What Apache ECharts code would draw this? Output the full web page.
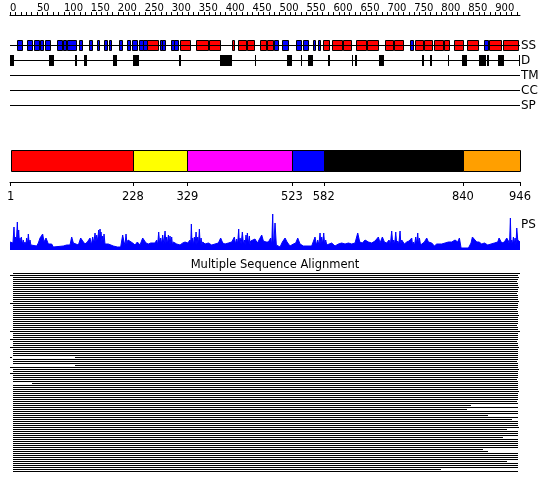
<!DOCTYPE html>
<html><head><meta charset="utf-8">
<script src="https://cdn.jsdelivr.net/npm/echarts@6/dist/echarts.min.js"></script>
<style>html,body{margin:0;padding:0;background:#fff}#c{width:550px;height:495px}</style>
</head><body><div id="c"></div><script>
// ---------- data ----------
var seqLength = 946;
var topTickLabels = [0,50,100,150,200,250,300,350,400,450,500,550,600,650,700,750,800,850,900];
var trackNames = ['SS','D','TM','CC','SP'];
// secondary structure elements (E = strand, H = helix)
var ssStart = [13.5,31,45.1,55.7,64.4,87.8,98.9,106.3,128.6,146,162,173.8,183.7,202.8,216.5,226.9,239.9,247.3,254.2,278.3,282.6,298.7,304.8,316,344.5,369.2,412.4,423.6,439.1,463.3,476.8,489.8,504.1,530,544.2,562.7,570.9,581.3,596.8,618.4,641.4,661.8,695.2,712.4,741.6,752,768.6,786.1,805.2,823.7,847.3,879.4,889.2,914.1];
var ssEnd   = [22.8,41.4,53.2,61.8,74.8,95.9,103.9,121.9,133.6,152.7,165,180.5,187.4,208.3,223.2,235.1,247.3,254.2,274,282.6,287,303.7,311.1,334.5,366.8,390.2,416.1,437.3,453.2,474.4,487.4,496.7,516.3,539.9,553.4,565.9,575.1,592.4,615.4,632.7,659.9,683.3,710,729.7,747.7,766.2,783.5,802.8,814.5,839.9,868.8,887.4,910.4,943];
var ssType  = ['E','E','E','E','E','E','E','E','E','E','E','E','E','E','E','E','E','E','H','E','E','E','E','H','H','H','H','H','H','H','H','E','E','E','E','E','E','H','H','H','H','H','H','H','E','H','H','H','H','H','H','E','H','H'];
// disorder segments
var dStart = [0,72.4,120.6,137.3,191.1,228.2,313.5,389.6,454.5,513.9,539.3,552.3,589.4,634,640,685.2,765,779.2,812,838.6,870.1,885,906,943.8];
var dEnd   = [7.4,81.6,124.3,142.9,198.5,239.3,317.3,411.3,456.4,522.6,542.3,561.6,593.7,636.9,643.2,694.4,768.1,782.4,815,847.3,882.6,889.2,916,946];
// domain boundaries
var domainStart = [1,228,329,523,582,840];
var domainEnd   = [228,329,523,582,840,946];
var domainTicks = [1,228,329,523,582,840,946];
// PS profile (residue, value): peaks ...
var psPos = [0,7.4,9.9,13.6,16.1,18.6,21,24.7,27.8,30.9,34,37.1,40.2,49.5,52.6,55.7,60.6,63.1,66.8,71.1,77.3,80.4,98.9,102,105.1,111.3,114.4,117.5,120.6,126.8,131.1,134.8,139.1,143.5,148.4,153.4,157.7,160.8,164.5,167,168.8,171.9,174.4,178.1,182.4,185.5,191.7,194.8,199.1,205.3,209,211.5,215.2,218.9,222.6,227.6,231.9,236.2,241.2,246.1,248.6,252.3,256.6,261,269,272.1,275.8,279.5,283.2,287.6,290.7,293.8,296.8,299.9,303,309.2,315.4,320.3,324.7,329.6,334,336.4,338.9,342,345.1,348.2,351.3,354.4,357.5,361.8,368,374.1,380.3,386.5,390.8,394.6,398.9,405.1,411.3,416.2,420.5,424.2,426.7,431,434.8,437.8,440.3,444,446.5,450.2,454.5,458.9,462.6,466.9,470,475,479.3,483.6,487.3,489.8,491.6,496.5,500.9,505.2,510.2,513.9,519.4,525.6,530,533.7,538,544.2,559.6,565.8,570.8,575.1,578.2,581.9,585.6,590.5,596.7,602.9,609.1,615.3,621.5,627.7,633.8,640,645,648.7,653.6,658.6,664.8,670.9,677.1,683.3,686.4,690.7,694.4,698.8,703.1,708,711.8,715.5,719.2,723.5,726.6,731.5,735.9,740.2,745.2,748.2,752.6,756.3,759.4,763.7,768.7,773,776.1,782.3,787.2,791.5,800.8,807,813.2,819.4,825.5,830.5,833.6,836.7,850.3,855.2,857.7,861.4,865.8,870.1,875,880,886.2,892.3,898.5,904.7,907.2,912.1,917.1,921.4,924.5,928.2,930.7,933.8,936.9,940,941.8,946];
var psVal = [8,23,13,28,20,12,13,10,8,12,16,10,4,4,7,12,16,8,12,6,6,3,4,6,5,5,13,7,5,5,12,9,6,8,12,13,17,15,20,21,18,14,16,8,6,4,4,6,3,3,15,8,16,10,8,7,5,8,5,12,14,7,6,7,7,10,18,12,15,19,13,15,14,13,8,6,5,7,8,7,10,26,12,13,18,13,21,12,8,6,7,5,6,7,12,7,6,7,8,13,11,21,12,18,10,15,17,14,9,8,11,7,8,15,9,8,8,12,36,10,27,7,3,8,12,8,4,6,7,12,6,4,4,13,10,17,13,17,10,6,7,4,6,7,6,7,6,7,17,8,7,10,8,7,9,13,7,13,8,7,10,19,10,18,9,19,10,6,8,9,12,8,13,17,12,7,8,12,8,7,4,6,6,7,8,8,10,8,12,2,2,7,13,12,8,8,6,7,5,6,7,8,12,7,8,12,9,32,10,13,12,22,10,8];
// ... and the troughs between neighbouring spikes
var psTroughPos = [3,5.5,8.6,11.8,14.9,17.4,19.8,22.9,26.3,29.3,32.5,35.6,38.7,150.9,155.5,159.3,162.7,165.8,168,170.4,173.2,176.2,213.3,217,274,277.6,281.3,285.4,289.1,292.2,295.3,298.3,301.4,335.2,337.6,340.4,343.5,346.6,349.7,352.8,356,418.3,422.3,425.4,428.8,432.9,436.3,439,442.1,445.2,485.5,488.5,494,568.3,573,576.6,580,583.7,587.5,705.5,710,713.6,717.3,721.3,725,746.7,750.4,754.4,757.8,761.5,926.5,929.3,932.2,935.3,938.5];
var psTroughVal = [6,7,8,7,10,8,6,6,5,5,6,6,5,5,7,8,9,10,11,8,7,6,5,6,5,6,6,6,6,6,6,6,5,5,6,5,6,5,6,5,5,6,6,6,6,6,5,6,6,5,5,6,5,5,5,6,6,5,5,5,6,6,6,6,6,5,5,6,6,5,5,6,6,6,5];
// multiple sequence alignment coverage, one row per aligned sequence
var msaStart = [5,0,5,5,5,5,5,5,5,5,5,5,5,5,5,0,5,5,5,5,5,5,5,5,5,5,5,5,5,0,5,5,5,0,5,5,5,0,5,5,5,5,0,5,5,5,5,0,5,5,0,5,5,5,5,5,5,5,5,5,5,5,5,5,5,5,5,5,5,5,5,5,5,5,5,5,5,5,5,5,5,5,5,5,5,5,5,5,5,5,5,5,5,5,5,5,5,5,5,5];
var msaEnd   = [946,942,944,942,941,942,942,944,942,942,941,942,942,942,944,942,942,942,941,942,942,944,942,942,942,942,941,942,942,946,942,942,942,942,941,942,942,944,942,942,942,942,942,942,941,942,942,942,944,942,942,942,942,941,942,942,942,942,942,944,942,942,942,942,941,942,855,942,848,942,942,887,942,931,942,942,942,944,921,942,942,942,914,942,942,942,942,942,878,887,942,942,942,942,921,942,942,942,799,942];
var msaGaps  = [[42,3,120],[46,3,120],[55,0,40]];

// ---------- chart ----------
var FONT = 'DejaVu Sans';
var L = 10, W = 510;
var trackY = [30.5,45.5,60.5,75.5,90.5];

var ssData = ssStart.map(function(s,i){return [s, ssEnd[i], ssType[i]==='H'?1:0];});
var dData = dStart.map(function(s,i){return [s, dEnd[i]];});
var domColors = ['#ff0000','#ffff00','#ff00ff','#0000ff','#000000','#ff9f00'];
var domData = domainStart.map(function(s,i){return [s, domainEnd[i], i];});
var psData = psPos.map(function(p,i){return [p, psVal[i]];})
  .concat(psTroughPos.map(function(p,i){return [p, psTroughVal[i]];}))
  .sort(function(a,b){return a[0]-b[0];});
var msaData = [];
msaStart.forEach(function(s,row){
  var segs = [[s, msaEnd[row]]];
  msaGaps.forEach(function(g){
    if (g[0] !== row) return;
    var out = [];
    segs.forEach(function(sg){
      if (g[2] <= sg[0] || g[1] >= sg[1]) { out.push(sg); return; }
      if (g[1] > sg[0]) out.push([sg[0], g[1]]);
      if (g[2] < sg[1]) out.push([g[2], sg[1]]);
    });
    segs = out;
  });
  segs.forEach(function(sg){ msaData.push([sg[0], sg[1], row]); });
});

function rectFrom(api, x0, x1, y0, y1, fill, stroke){
  var p0 = api.coord([x0, y0]), p1 = api.coord([x1, y1]);
  var xa = Math.round(p0[0]), xb = Math.round(p1[0]);
  if (xb - xa < 1) xb = xa + 1;
  var ya = Math.round(Math.min(p0[1],p1[1])), yb = Math.round(Math.max(p0[1],p1[1]));
  if (stroke) {
    return {type:'rect', shape:{x:xa+0.5, y:ya+0.5, width:xb-xa, height:yb-ya}, style:{fill:fill, stroke:stroke, lineWidth:1}};
  }
  return {type:'rect', shape:{x:xa, y:ya, width:xb-xa, height:yb-ya}, style:{fill:fill}};
}

var hiddenX = function(gi){return {gridIndex:gi, type:'value', min:0, max:seqLength, show:false};};

var series = [];
trackNames.forEach(function(n,i){
  series.push({type:'line', xAxisIndex:0, yAxisIndex:0, data:[[0,trackY[i]],[seqLength,trackY[i]]],
    symbol:'none', silent:true, lineStyle:{color:'#000', width:1},
    endLabel:{show:true, formatter:n, color:'#000', fontSize:12, fontFamily:FONT, distance:1}});
});
series.push({type:'custom', xAxisIndex:0, yAxisIndex:0, data:ssData, silent:true, encode:{x:[0,1]},
  renderItem:function(p, api){ return rectFrom(api, api.value(0), api.value(1), 25, 35, api.value(2)===1?'#ff0000':'#0000ff', '#000'); }});
series.push({type:'custom', xAxisIndex:0, yAxisIndex:0, data:dData, silent:true, encode:{x:[0,1]},
  renderItem:function(p, api){ return rectFrom(api, api.value(0), api.value(1), 40, 51, '#000'); }});
series.push({type:'custom', xAxisIndex:1, yAxisIndex:1, data:domData, silent:true, encode:{x:[0,1]},
  renderItem:function(p, api){ return rectFrom(api, api.value(0), api.value(1), 0, 21, domColors[api.value(2)], '#000'); }});
series.push({type:'line', xAxisIndex:2, yAxisIndex:2, data:psData, symbol:'none', silent:true,
  lineStyle:{color:'#0000ff', width:1}, areaStyle:{color:'#0000ff', opacity:1}});
series.push({type:'custom', xAxisIndex:3, yAxisIndex:3, data:msaData, silent:true, encode:{x:[0,1]},
  renderItem:function(p, api){ return rectFrom(api, api.value(0), api.value(1), api.value(2), api.value(2)+0.5, '#000'); }});

var ticks10 = [];
for (var t = 0; t <= 940; t += 10) ticks10.push(t);

var option = {
  animation:false,
  backgroundColor:'#fff',
  title:{text:'Multiple Sequence Alignment', left:'center', top:259, padding:0,
    textStyle:{fontSize:11.5, fontWeight:'normal', color:'#000', fontFamily:FONT}},
  graphic:[{type:'text', left:521, top:219, style:{text:'PS', fontSize:12, fontFamily:FONT, fill:'#000'}}],
  grid:[
    {left:L, width:W, top:15, height:95},
    {left:L, width:W, top:150, height:21},
    {left:L, width:W, top:212, height:38},
    {left:L, width:W, top:273, height:200}
  ],
  xAxis:[
    {gridIndex:0, type:'value', min:0, max:seqLength, position:'top',
      axisLine:{show:true, onZero:false, lineStyle:{color:'#000', width:1}},
      axisTick:{show:true, length:3, customValues:ticks10, lineStyle:{color:'#000'}},
      axisLabel:{show:true, customValues:topTickLabels, fontSize:10, fontFamily:FONT, color:'#000', margin:2, align:'left'},
      splitLine:{show:false}},
    {gridIndex:1, type:'value', min:0, max:seqLength, position:'bottom', offset:11,
      axisLine:{show:true, onZero:false, lineStyle:{color:'#000', width:1}},
      axisTick:{show:true, length:4, customValues:domainTicks, lineStyle:{color:'#000'}},
      axisLabel:{show:true, customValues:domainTicks, fontSize:11.5, fontFamily:FONT, color:'#000', margin:9},
      splitLine:{show:false}},
    hiddenX(2), hiddenX(3)
  ],
  yAxis:[
    {gridIndex:0, type:'value', min:0, max:95, inverse:true, show:false},
    {gridIndex:1, type:'value', min:0, max:21, inverse:true, show:false},
    {gridIndex:2, type:'value', min:0, max:38, show:false},
    {gridIndex:3, type:'value', min:0, max:100, inverse:true, show:false}
  ],
  series:series
};
var chart = echarts.init(document.getElementById('c'), null, {renderer:'canvas'});
chart.setOption(option);
</script></body></html>
